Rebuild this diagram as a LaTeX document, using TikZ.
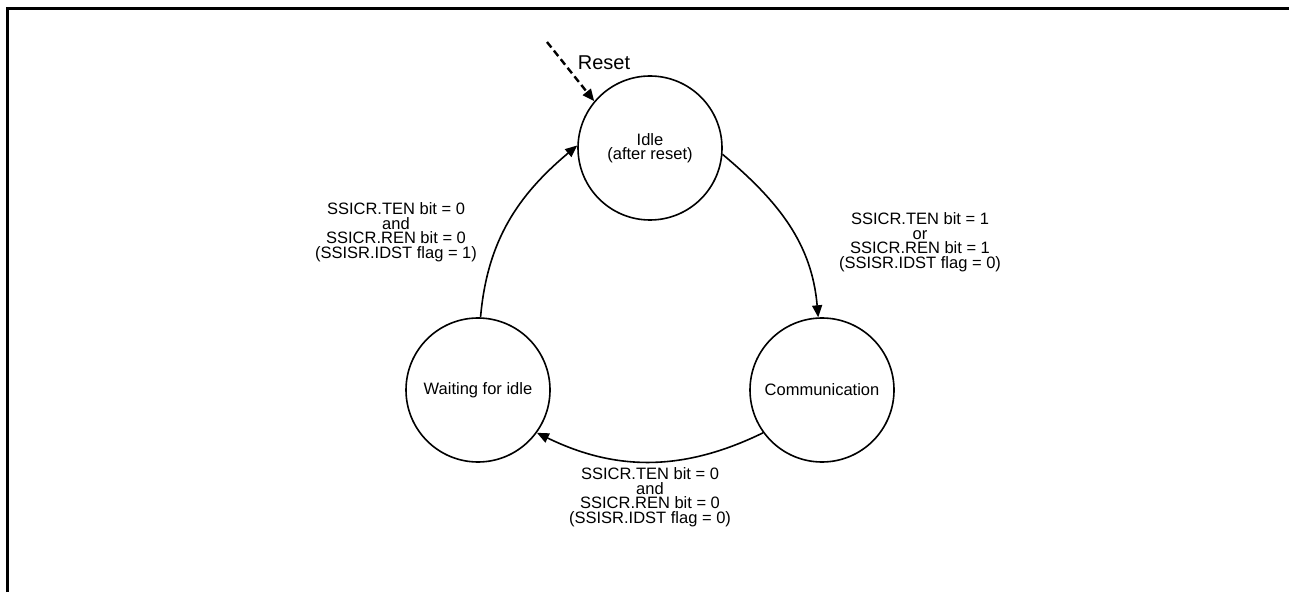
\documentclass[tikz,border=0pt]{standalone}
\usepackage{fontspec}
\setmainfont{Liberation Sans}
\usetikzlibrary{arrows.meta,positioning}

\begin{document}
\begin{tikzpicture}[
    x=1pt,y=1pt,
    font=\fontsize{16.5}{14.5}\selectfont,
    state/.style={draw,circle,line width=1.6pt,minimum size=144pt,inner sep=0pt,align=center},
    lbl/.style={align=center,inner sep=0pt},
    ar/.style={line width=1.6pt,-{Triangle[length=12pt,width=10pt]}},
    rst/.style={line width=2.4pt,dash pattern=on 7pt off 4pt,-{Triangle[length=12pt,width=10pt]}}
  ]
    \useasboundingbox (0,0) rectangle (1289,592);
    \draw[line width=3pt] (7.5,0) -- (7.5,583.5) -- (1289,583.5);

    \node[state] (idle) at (650,444) {Idle\\(after reset)};
    \node[state] (wait) at (478,202) {Waiting for idle};
    \node[state] (comm) at (822,202) {Communication};

    \coordinate (rsrc) at (547,550);
    \node[font=\fontsize{20}{24}\selectfont] (rlbl) at (604,529) {Reset};

    \node[lbl] (l1) at (396,360) {SSICR.TEN bit = 0\\and\\SSICR.REN bit = 0\\(SSISR.IDST flag = 1)};
    \node[lbl] (l2) at (920,350) {SSICR.TEN bit = 1\\or\\SSICR.REN bit = 1\\(SSISR.IDST flag = 0)};
    \node[lbl] (l3) at (650,95)  {SSICR.TEN bit = 0\\and\\SSICR.REN bit = 0\\(SSISR.IDST flag = 0)};

    \draw[rst] (rsrc) -- (idle.140);
    \draw[ar] (wait.88)  to[out=85,in=220]  (idle.178);
    \draw[ar] (idle.-5)  to[out=-40,in=95]  (comm.93);
    \draw[ar] (comm.216) to[out=206,in=-26] (wait.-36);
  \end{tikzpicture}
\end{document}
